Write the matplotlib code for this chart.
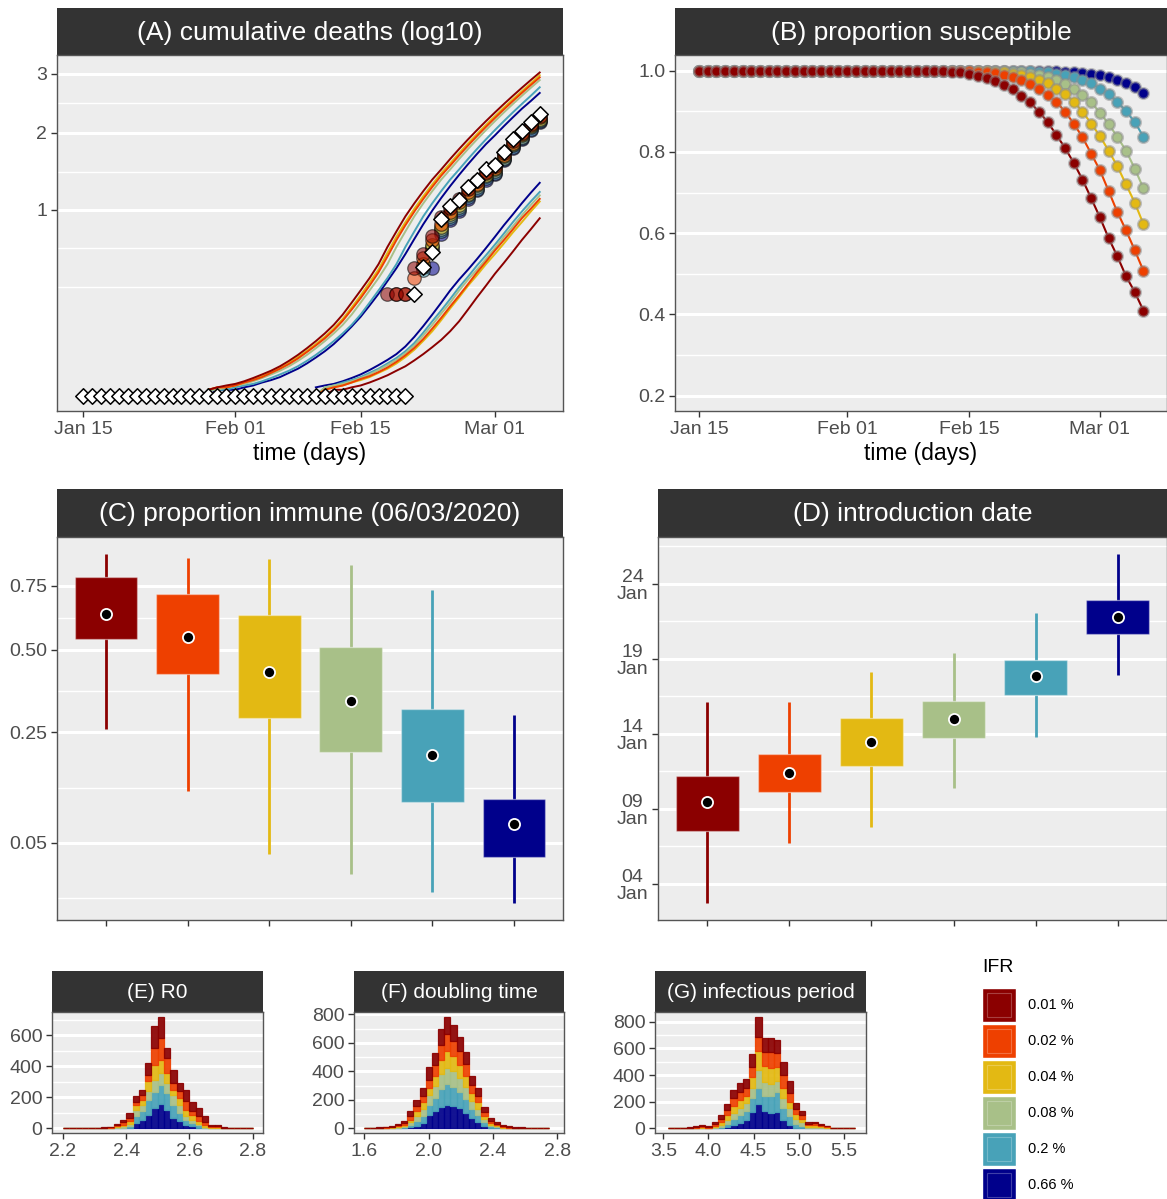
import datetime as dt
import numpy as np
import matplotlib
matplotlib.use("Agg")
import matplotlib.pyplot as plt
import matplotlib.dates as mdates
from matplotlib.patches import Rectangle

plt.rcParams['font.family'] = ['Liberation Sans', 'DejaVu Sans']

# ---------------- data ----------------
ifr_labels = ['0.01 %', '0.02 %', '0.04 %', '0.08 %', '0.2 %', '0.66 %']
ifr_colors = ['#8B0000', '#EE4000', '#E3B913', '#A8C088', '#48A2B8', '#00008B']

first_day = dt.datetime(2020, 1, 15)
date_ticks = [dt.datetime(2020, 1, 15), dt.datetime(2020, 2, 1),
              dt.datetime(2020, 2, 15), dt.datetime(2020, 3, 1)]

# (A) observed cumulative deaths, log10(deaths + 1), Jan 15 .. Mar 6
obs_log10_deaths = [0.0] * 37 + [0.30, 0.48, 0.60, 0.90, 1.04, 1.11, 1.26, 1.34,
                                 1.48, 1.54, 1.72, 1.90, 2.03, 2.17, 2.30]

# (A) model envelope curves (day 14 .. day 51 after Jan 15)
upper_start_day = 14
upper_curves = [
    [.001, .002, .003, .004, .006, .009, .013, .018, .025, .035, .048, .065, .086, .112, .145, .19, .25, .32, .40,
     .50, .64, .78, .93, 1.07, 1.21, 1.35, 1.48, 1.62, 1.76, 1.90, 2.04, 2.18, 2.32, 2.46, 2.60, 2.74, 2.88, 3.02],
    [.001, .002, .002, .003, .005, .007, .010, .015, .021, .029, .040, .055, .073, .095, .124, .162, .214, .275, .35,
     .44, .56, .70, .84, .98, 1.12, 1.26, 1.40, 1.53, 1.67, 1.81, 1.95, 2.09, 2.23, 2.37, 2.51, 2.65, 2.79, 2.93],
    [.001, .002, .002, .003, .005, .008, .011, .016, .022, .031, .043, .058, .077, .100, .130, .170, .225, .29, .37,
     .46, .59, .73, .87, 1.01, 1.15, 1.29, 1.43, 1.56, 1.70, 1.84, 1.98, 2.12, 2.26, 2.40, 2.54, 2.68, 2.82, 2.97],
    [.001, .001, .002, .003, .004, .006, .009, .013, .018, .025, .035, .048, .065, .086, .112, .145, .19, .25, .32,
     .40, .50, .64, .78, .93, 1.07, 1.21, 1.35, 1.48, 1.62, 1.76, 1.90, 2.04, 2.18, 2.32, 2.46, 2.60, 2.74, 2.88],
    [.001, .001, .001, .002, .003, .004, .006, .009, .013, .018, .025, .035, .048, .065, .086, .112, .145, .19, .25,
     .32, .40, .50, .64, .78, .93, 1.07, 1.21, 1.35, 1.48, 1.62, 1.76, 1.90, 2.04, 2.18, 2.32, 2.46, 2.60, 2.75],
    [.000, .001, .001, .001, .002, .003, .005, .007, .010, .015, .021, .030, .042, .057, .077, .104, .138, .18, .235,
     .30, .38, .47, .58, .71, .85, .99, 1.13, 1.27, 1.41, 1.55, 1.69, 1.83, 1.96, 2.10, 2.24, 2.38, 2.51, 2.65],
]
lower_start_day = 26
lower_curves = [
    [0.0, 0.0, .001, .001, .002, .003, .005, .008, .012, .018, .025, .036, .05, .068, .09, .12, .16, .215, .28,
     .35, .43, .51, .60, .70, .80, .91],
    [0.0, .001, .002, .003, .005, .008, .011, .016, .023, .033, .047, .066, .093, .13, .175, .23, .29, .36, .44,
     .52, .61, .70, .80, .91, 1.01, 1.12],
    [0.0, .001, .002, .003, .005, .007, .010, .015, .021, .030, .043, .061, .087, .12, .165, .22, .28, .35, .42,
     .50, .58, .67, .77, .87, .98, 1.09],
    [0.0, .002, .003, .004, .006, .009, .013, .019, .027, .037, .052, .073, .105, .145, .195, .25, .32, .39, .46,
     .54, .63, .73, .83, .94, 1.05, 1.16],
    [0.0, .002, .003, .005, .007, .010, .015, .021, .030, .041, .057, .08, .115, .16, .21, .27, .34, .41, .49,
     .57, .66, .76, .87, .98, 1.09, 1.20],
    [.002, .003, .004, .006, .009, .013, .019, .027, .037, .05, .07, .10, .14, .19, .25, .32, .39, .46, .54,
     .63, .73, .84, .95, 1.07, 1.19, 1.31],
]
# (A) per-IFR fitted points, day 34 .. day 51
circle_start_day = 34
nan = float('nan')
circle_values = [
    [0.30, 0.30, 0.30, 0.47, 0.58, 0.74, 0.92, 1.02, 1.12, 1.24, 1.33, 1.45, 1.52, 1.70, 1.87, 2.00, 2.14, 2.26],
    [nan, 0.30, 0.30, 0.40, 0.55, 0.70, 0.85, 0.98, 1.08, 1.20, 1.30, 1.43, 1.50, 1.68, 1.85, 1.98, 2.12, 2.24],
    [nan, nan, nan, nan, 0.50, 0.66, 0.82, 0.95, 1.05, 1.18, 1.28, 1.41, 1.48, 1.66, 1.83, 1.96, 2.10, 2.22],
    [nan, nan, nan, nan, 0.48, 0.64, 0.80, 0.93, 1.03, 1.16, 1.26, 1.39, 1.46, 1.64, 1.81, 1.94, 2.08, 2.20],
    [nan, nan, nan, nan, 0.46, 0.62, 0.78, 0.91, 1.01, 1.14, 1.24, 1.37, 1.44, 1.62, 1.79, 1.92, 2.06, 2.18],
    [nan, nan, nan, nan, nan, 0.47, 0.76, 0.89, 0.99, 1.12, 1.22, 1.35, 1.42, 1.60, 1.77, 1.90, 2.04, 2.16],
]

# (B) proportion susceptible, Jan 15 .. Mar 6
susceptible = [
    [1.0] * 29 + [.998, .996, .993, .988, .982, .975, .965, .954, .938, .922, .899, .874, .842, .810, .773,
                  .732, .686, .639, .588, .543, .494, .455, .409],
    [1.0] * 31 + [.999, .998, .996, .994, .990, .984, .977, .967, .954, .940, .924, .899, .870, .836, .796,
                  .755, .704, .652, .607, .558, .507],
    [1.0] * 32 + [.999, .999, .998, .996, .993, .989, .984, .977, .969, .956, .942, .924, .899, .870, .839,
                  .803, .765, .720, .675, .622],
    [1.0] * 34 + [.999, .999, .998, .996, .993, .989, .984, .977, .967, .956, .940, .922, .897, .869, .837,
                  .803, .759, .710],
    [1.0] * 38 + [.999, .998, .996, .993, .989, .984, .977, .969, .956, .942, .924, .900, .874, .837],
    [1.0] * 41 + [.999, .998, .997, .995, .992, .989, .984, .977, .969, .959, .944],
]

# (C) proportion immune on 06/03/2020: whisker low, q1, median, q3, whisker high
immune_lo = [0.258, 0.1255, 0.038, 0.0213, 0.0101, 0.0055]
immune_q1 = [0.537, 0.417, 0.288, 0.204, 0.107, 0.0353]
immune_med = [0.634, 0.545, 0.423, 0.335, 0.197, 0.073]
immune_q3 = [0.789, 0.717, 0.629, 0.508, 0.311, 0.112]
immune_hi = [0.895, 0.875, 0.870, 0.842, 0.733, 0.295]

# (D) introduction date (day of January 2020)
intro_lo = [2.75, 6.73, 7.78, 10.38, 13.82, 17.93]
intro_q1 = [7.53, 10.15, 11.89, 13.75, 16.60, 20.67]
intro_med = [9.45, 11.38, 13.47, 14.98, 17.85, 21.82]
intro_q3 = [11.18, 12.65, 15.05, 16.20, 18.95, 22.91]
intro_hi = [16.11, 16.11, 18.11, 19.40, 22.09, 26.00]

# (E) R0 histogram, 30 bins over 2.2 .. 2.8, counts per IFR
r0_range = (2.2, 2.8)
r0_counts = [
    [2, 2, 2, 2, 2, 3, 3, 4, 10, 18, 34, 37, 28, 75, 146, 140, 68, 86, 53, 74, 60, 53, 37, 8, 6, 3, 2, 2, 2, 2],
    [0, 0, 0, 1, 1, 1, 2, 2, 8, 14, 21, 21, 32, 39, 107, 139, 97, 43, 43, 60, 21, 32, 20, 6, 5, 2, 1, 1, 0, 0],
    [0, 0, 0, 0, 1, 1, 1, 2, 6, 12, 17, 32, 32, 64, 96, 86, 64, 32, 43, 35, 32, 15, 10, 5, 4, 1, 1, 0, 0, 0],
    [0, 0, 0, 0, 0, 0, 1, 1, 4, 8, 15, 43, 39, 58, 80, 75, 64, 64, 54, 25, 22, 11, 5, 3, 3, 1, 0, 0, 0, 0],
    [0, 0, 0, 0, 0, 0, 0, 1, 2, 4, 13, 43, 57, 96, 103, 124, 107, 86, 53, 32, 21, 17, 5, 2, 2, 0, 0, 0, 0, 0],
    [0, 0, 0, 0, 0, 0, 0, 0, 0, 0, 0, 34, 56, 88, 130, 156, 120, 66, 45, 24, 13, 2, 0, 0, 0, 0, 0, 0, 0, 0],
]
# (F) doubling time histogram, 30 bins over 1.6 .. 2.75
dbl_range = (1.6, 2.75)
dbl_counts = [
    [3, 3, 4, 5, 8, 11, 16, 40, 42, 54, 94, 82, 112, 123, 115, 100, 86, 65, 55, 33, 19, 12, 9, 6, 6, 4, 4, 3, 3, 3],
    [1, 1, 2, 3, 4, 7, 11, 23, 33, 45, 58, 75, 105, 117, 105, 95, 85, 55, 45, 26, 14, 10, 6, 4, 3, 2, 1, 1, 1, 0],
    [0, 1, 1, 2, 3, 6, 10, 16, 35, 45, 51, 75, 100, 116, 105, 95, 80, 57, 44, 24, 12, 8, 5, 3, 2, 1, 1, 1, 0, 0],
    [0, 0, 1, 1, 3, 5, 8, 19, 35, 48, 65, 80, 105, 117, 110, 98, 82, 58, 45, 24, 12, 7, 4, 2, 1, 1, 0, 0, 0, 0],
    [0, 0, 0, 1, 2, 3, 6, 19, 35, 50, 70, 95, 125, 145, 130, 115, 95, 65, 48, 22, 10, 5, 2, 1, 0, 0, 0, 0, 0, 0],
    [0, 0, 0, 0, 0, 1, 3, 7, 20, 40, 96, 120, 150, 165, 160, 140, 110, 70, 45, 20, 5, 2, 0, 0, 0, 0, 0, 0, 0, 0],
]
# (G) infectious period histogram, 30 bins over 3.55 .. 5.63
inf_range = (3.55, 5.63)
inf_counts = [
    [3, 4, 4, 6, 9, 11, 9, 18, 30, 44, 64, 69, 67, 99, 150, 100, 100, 99, 100, 93, 45, 30, 12, 13, 10, 6, 3, 2, 3, 3],
    [1, 2, 2, 3, 6, 7, 6, 14, 25, 40, 60, 60, 60, 70, 107, 107, 120, 100, 99, 62, 40, 30, 12, 14, 10, 6, 2, 2, 1, 1],
    [1, 1, 1, 2, 4, 5, 4, 10, 20, 35, 50, 55, 55, 80, 142, 122, 124, 107, 70, 50, 35, 25, 10, 12, 8, 5, 1, 1, 1, 0],
    [0, 0, 0, 1, 2, 3, 2, 7, 15, 30, 45, 55, 60, 80, 132, 100, 92, 80, 80, 62, 35, 25, 8, 8, 6, 3, 1, 0, 0, 0],
    [0, 0, 0, 0, 1, 1, 1, 3, 10, 25, 45, 60, 70, 100, 125, 115, 125, 150, 87, 63, 30, 20, 5, 5, 3, 2, 0, 0, 0, 0],
    [0, 0, 0, 0, 0, 0, 0, 0, 2, 8, 25, 40, 60, 127, 182, 132, 115, 127, 65, 27, 5, 2, 0, 0, 0, 0, 0, 0, 0, 0],
]

# ---------------- figure helpers ----------------
W, H = 1167, 1199
fig = plt.figure(figsize=(W / 100, H / 100), dpi=100)
PANEL_BG = '#EDEDED'
TICK_LBL = '#4D4D4D'


def px_axes(x0, y0, x1, y1):
    return fig.add_axes([x0 / W, 1 - y1 / H, (x1 - x0) / W, (y1 - y0) / H])


def strip(x0, y0, x1, y1, text, size):
    sa = px_axes(x0, y0, x1, y1)
    sa.set_facecolor('#333333')
    sa.set_xticks([])
    sa.set_yticks([])
    for s in sa.spines.values():
        s.set_visible(False)
    sa.text(0.5, 0.47, text, color='white', ha='center', va='center', fontsize=size,
            transform=sa.transAxes)


def style(ax, labelsize=14):
    ax.set_facecolor(PANEL_BG)
    for s in ax.spines.values():
        s.set_color('#555555')
        s.set_linewidth(1.0)
    ax.tick_params(color='#333333', labelcolor=TICK_LBL, length=4, width=1.0,
                   labelsize=labelsize, pad=3)
    ax.set_axisbelow(True)


def hgrid(ax, major, minor):
    for v in minor:
        ax.axhline(v, color='white', lw=1.0, zorder=0.5)
    for v in major:
        ax.axhline(v, color='white', lw=2.2, zorder=0.6)


def ssqrt(v):
    v = np.asarray(v, dtype=float)
    return np.sign(v) * np.sqrt(np.abs(v))


def ssq(t):
    t = np.asarray(t, dtype=float)
    return np.sign(t) * t * t


base = mdates.date2num(first_day)
jan1 = mdates.date2num(dt.datetime(2020, 1, 1))

# ---------------- (A) ----------------
strip(57, 8, 563, 55, '(A) cumulative deaths (log10)', 19)
axA = px_axes(57, 55, 563, 411)
style(axA)
axA.set_yscale('function', functions=(ssqrt, ssq))
hgrid(axA, [1, 2, 3], [0.343, 0.627, 1.450, 2.471])
for k in range(5, -1, -1):
    up = upper_curves[k]
    axA.plot(base + upper_start_day + np.arange(len(up)), up, color=ifr_colors[k], lw=1.4, zorder=2)
    lo = lower_curves[k]
    axA.plot(base + lower_start_day + np.arange(len(lo)), lo, color=ifr_colors[k], lw=1.4, zorder=2)
for k in range(5, -1, -1):
    cv = np.array(circle_values[k])
    axA.scatter(base + circle_start_day + np.arange(len(cv)), cv, s=95, color=ifr_colors[k],
                alpha=0.55, edgecolors='black', linewidths=0.9, zorder=3)
axA.scatter(base + np.arange(len(obs_log10_deaths)), obs_log10_deaths, marker='D', s=62,
            facecolor='white', edgecolor='black', linewidths=1.1, zorder=4)
axA.set_ylim(-0.0068, 3.356)
axA.set_yticks([1, 2, 3])
axA.set_yticklabels(['1', '2', '3'])
axA.set_xlim(base - 2.9, base + 53.6)
axA.set_xticks([mdates.date2num(d) for d in date_ticks])
axA.xaxis.set_major_formatter(mdates.DateFormatter('%b %d'))
axA.set_xlabel('time (days)', fontsize=16.5, labelpad=3)

# ---------------- (B) ----------------
strip(675, 8, 1167, 55, '(B) proportion susceptible', 19)
axB = px_axes(675, 55, 1167, 411)
style(axB)
hgrid(axB, [0.2, 0.4, 0.6, 0.8, 1.0], [0.3, 0.5, 0.7, 0.9])
for k in range(5, -1, -1):
    sv = susceptible[k]
    xs = base + np.arange(len(sv))
    axB.plot(xs, sv, color=ifr_colors[k], lw=1.5, zorder=2)
    axB.scatter(xs, sv, s=58, color=ifr_colors[k], edgecolors=(0.55, 0.55, 0.55, 0.5),
                linewidths=1.8, zorder=3)
axB.set_ylim(0.162, 1.0387)
axB.set_yticks([0.2, 0.4, 0.6, 0.8, 1.0])
axB.set_yticklabels(['0.2', '0.4', '0.6', '0.8', '1.0'])
axB.set_xlim(base - 2.75, base + 53.7)
axB.set_xticks([mdates.date2num(d) for d in date_ticks])
axB.xaxis.set_major_formatter(mdates.DateFormatter('%b %d'))
axB.set_xlabel('time (days)', fontsize=16.5, labelpad=3)


def boxes(ax, lo, q1, med, q3, hi):
    for k in range(6):
        pos = k + 1
        c = ifr_colors[k]
        ax.plot([pos, pos], [lo[k], q1[k]], color=c, lw=2.0, zorder=2, solid_capstyle='butt')
        ax.plot([pos, pos], [q3[k], hi[k]], color=c, lw=2.0, zorder=2, solid_capstyle='butt')
        ax.add_patch(Rectangle((pos - 0.385, q1[k]), 0.77, q3[k] - q1[k], facecolor=c,
                               edgecolor=(1, 1, 1, 0.35), lw=1.0, zorder=3))
        ax.plot([pos], [med[k]], 'o', mfc='black', mec='white', ms=8, mew=1.3, zorder=4)
    ax.set_xlim(0.4, 6.6)
    ax.set_xticks(range(1, 7))
    ax.set_xticklabels([''] * 6)


# ---------------- (C) ----------------
strip(57, 489, 563, 537, '(C) proportion immune (06/03/2020)', 19)
axC = px_axes(57, 537, 563, 920)
style(axC)
axC.set_yscale('function', functions=(ssqrt, ssq))
hgrid(axC, [0.05, 0.25, 0.50, 0.75], [0.0074, 0.1309, 0.3643, 0.6187])
boxes(axC, immune_lo, immune_q1, immune_med, immune_q3, immune_hi)
axC.set_ylim(0.00096, 0.977)
axC.set_yticks([0.05, 0.25, 0.50, 0.75])
axC.set_yticklabels(['0.05', '0.25', '0.50', '0.75'])

# ---------------- (D) ----------------
strip(658, 489, 1167, 537, '(D) introduction date', 19)
axD = px_axes(658, 537, 1167, 920)
style(axD)
tick_days = [4, 9, 14, 19, 24]
hgrid(axD, [jan1 + d - 1 for d in tick_days], [jan1 + d - 1 for d in [6.5, 11.5, 16.5, 21.5, 26.5]])
to_num = lambda arr: [jan1 + d - 1 for d in arr]
boxes(axD, to_num(intro_lo), to_num(intro_q1), to_num(intro_med), to_num(intro_q3), to_num(intro_hi))
axD.set_ylim(jan1 + 0.6, jan1 + 26.13)
axD.set_yticks([jan1 + d - 1 for d in tick_days])
axD.set_yticklabels(['%02d\nJan' % d for d in tick_days], linespacing=1.0, multialignment='center')


# ---------------- histograms ----------------
def stacked_hist(ax, rng, counts):
    edges = np.linspace(rng[0], rng[1], len(counts[0]) + 1)
    widths = np.diff(edges)
    bottom = np.zeros(len(widths))
    for k in range(5, -1, -1):
        vals = np.array(counts[k], dtype=float)
        ax.bar(edges[:-1], vals, width=widths, bottom=bottom, align='edge', color=ifr_colors[k],
               edgecolor=ifr_colors[k], linewidth=0.9, alpha=0.92, zorder=2)
        bottom += vals


strip(52, 971, 263, 1012, '(E) R0', 15)
axE = px_axes(52, 1012, 263, 1133)
style(axE, 14)
hgrid(axE, [0, 200, 400, 600], [100, 300, 500, 700])
stacked_hist(axE, r0_range, r0_counts)
axE.set_xlim(2.165, 2.833)
axE.set_ylim(-30, 750)
axE.set_xticks([2.2, 2.4, 2.6, 2.8])
axE.set_xticklabels(['2.2', '2.4', '2.6', '2.8'])
axE.set_yticks([0, 200, 400, 600])

strip(354, 971, 564, 1012, '(F) doubling time', 15)
axF = px_axes(354, 1012, 564, 1133)
style(axF, 14)
hgrid(axF, [0, 200, 400, 600, 800], [100, 300, 500, 700])
stacked_hist(axF, dbl_range, dbl_counts)
axF.set_xlim(1.537, 2.842)
axF.set_ylim(-32, 816)
axF.set_xticks([1.6, 2.0, 2.4, 2.8])
axF.set_xticklabels(['1.6', '2.0', '2.4', '2.8'])
axF.set_yticks([0, 200, 400, 600, 800])

strip(655, 971, 866, 1012, '(G) infectious period', 15)
axG = px_axes(655, 1012, 866, 1133)
style(axG, 14)
hgrid(axG, [0, 200, 400, 600, 800], [100, 300, 500, 700])
stacked_hist(axG, inf_range, inf_counts)
axG.set_xlim(3.406, 5.749)
axG.set_ylim(-34, 873)
axG.set_xticks([3.5, 4.0, 4.5, 5.0, 5.5])
axG.set_xticklabels(['3.5', '4.0', '4.5', '5.0', '5.5'])
axG.set_yticks([0, 200, 400, 600, 800])

# ---------------- legend ----------------
axL = px_axes(960, 945, 1167, 1199)
axL.set_xlim(960, 1167)
axL.set_ylim(1199, 945)
axL.axis('off')
axL.text(982, 967, 'IFR', fontsize=14, va='center', ha='left', color='black')
for k in range(6):
    y0 = 988 + 36 * k
    axL.add_patch(Rectangle((982, y0), 34, 34, facecolor=ifr_colors[k], edgecolor='white', lw=1.0))
    axL.add_patch(Rectangle((987, y0 + 5), 24, 24, facecolor='none', edgecolor=(1, 1, 1, 0.25), lw=0.8))
    axL.text(1028, y0 + 17, ifr_labels[k], fontsize=10.5, va='center', ha='left', color='black')

fig.savefig('out.png', dpi=100, facecolor='white')
